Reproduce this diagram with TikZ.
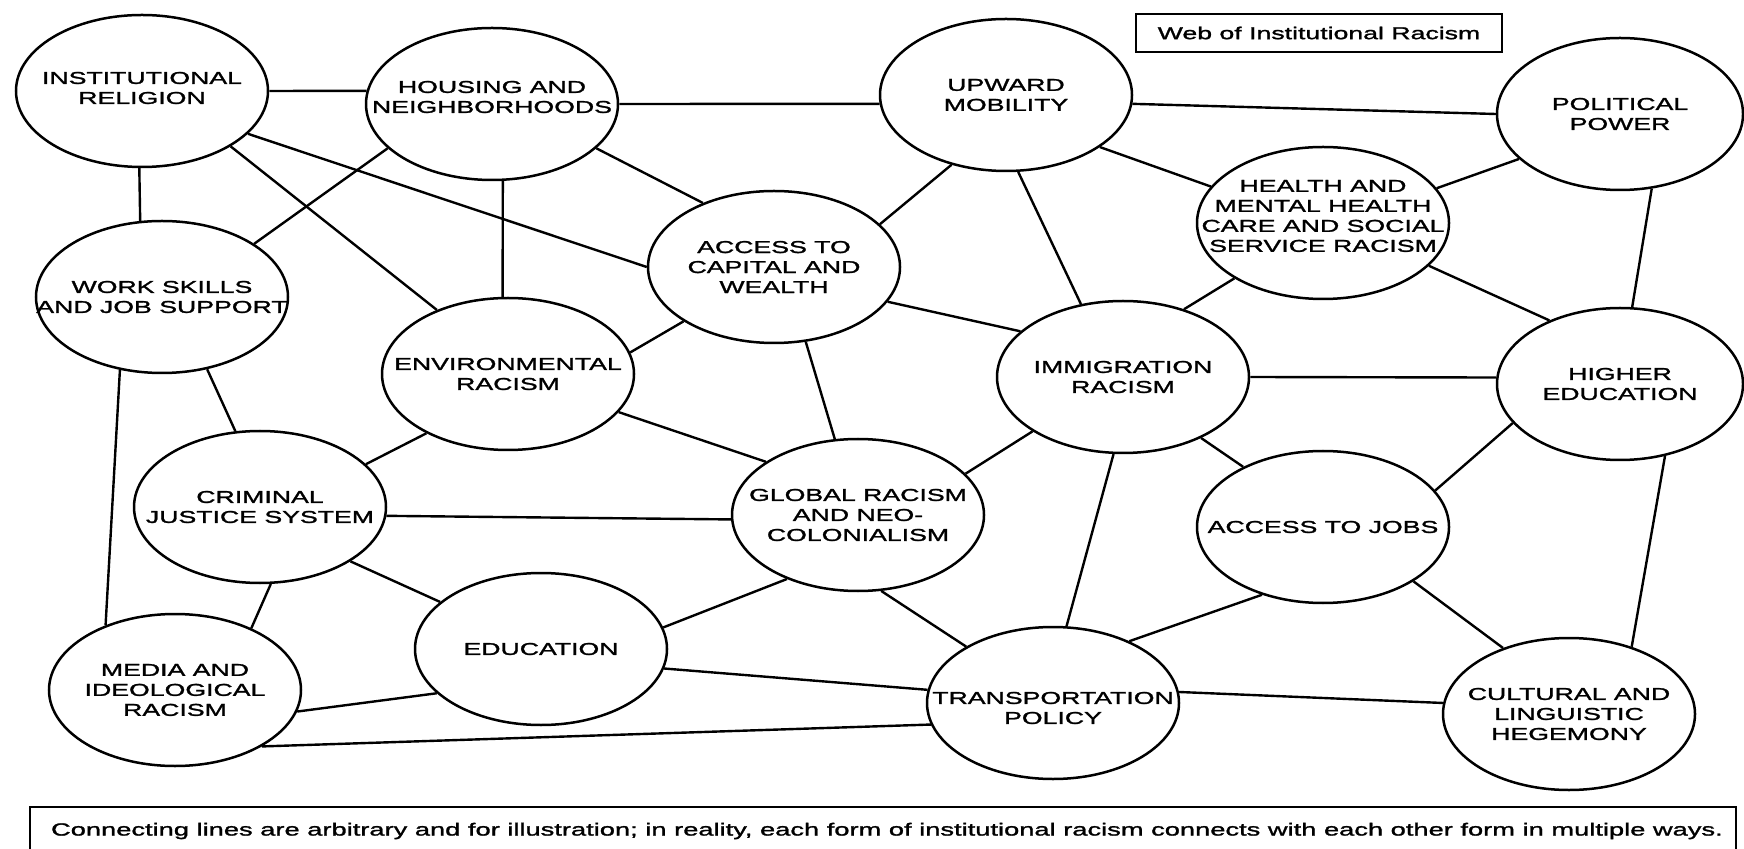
\documentclass[tikz,border=0pt]{standalone}
\usepackage{fontspec}
\setmainfont[FakeStretch=1.55,FakeBold=1.5]{Liberation Sans}
\usetikzlibrary{shapes.geometric}
\begin{document}
\begin{tikzpicture}[x=0.5pt,y=-0.5pt,
  blob/.style={draw, ellipse, line width=1.25pt, minimum width=126pt, minimum height=76pt, inner sep=0pt},
  narrowblob/.style={blob, minimum width=123pt},
  lbl/.style={align=center, inner sep=0pt, font=\fontsize{8.6}{10}\selectfont},
  link/.style={line width=1.2pt},
  framebox/.style={draw, line width=1.2pt, inner sep=0pt, font=\fontsize{8.6}{10}\selectfont}]
\fill[white] (0,0) rectangle (1744,849);
\useasboundingbox (0,0) rectangle (1744,849);

% circles
\node[blob, label={[lbl,yshift=1.5pt]center:{INSTITUTIONAL\\RELIGION}}] (inst) at (142,91) {};
\node[blob, label={[lbl,yshift=3.5pt]center:{HOUSING AND\\NEIGHBORHOODS}}] (hous) at (492,104) {};
\node[blob, label={[lbl]center:{UPWARD\\MOBILITY}}] (upw) at (1006,95) {};
\node[narrowblob, label={[lbl]center:{POLITICAL\\POWER}}] (pol) at (1620,114) {};
\node[blob, label={[lbl,yshift=3.5pt]center:{HEALTH AND\\MENTAL HEALTH\\CARE AND SOCIAL\\SERVICE RACISM}}] (hlth) at (1323,223) {};
\node[blob, label={[lbl]center:{ACCESS TO\\CAPITAL AND\\WEALTH}}] (cap) at (774,267) {};
\node[blob, label={[lbl]center:{WORK SKILLS\\AND JOB SUPPORT}}] (work) at (162,297) {};
\node[blob, label={[lbl]center:{ENVIRONMENTAL\\RACISM}}] (env) at (508,374) {};
\node[blob, label={[lbl]center:{IMMIGRATION\\RACISM}}] (imm) at (1123,377) {};
\node[narrowblob, label={[lbl]center:{HIGHER\\EDUCATION}}] (high) at (1620,384) {};
\node[blob, label={[lbl]center:{CRIMINAL\\JUSTICE SYSTEM}}] (crim) at (260,507) {};
\node[blob, label={[lbl]center:{GLOBAL RACISM\\AND NEO-\\COLONIALISM}}] (glob) at (858,515) {};
\node[blob, label={[lbl]center:{ACCESS TO JOBS}}] (jobs) at (1323,527) {};
\node[blob, label={[lbl]center:{EDUCATION}}] (edu) at (541,649) {};
\node[blob, label={[lbl]center:{MEDIA AND\\IDEOLOGICAL\\RACISM}}] (med) at (175,690) {};
\node[blob, label={[lbl,yshift=-2.5pt]center:{TRANSPORTATION\\POLICY}}] (trans) at (1053,703) {};
\node[blob, label={[lbl]center:{CULTURAL AND\\LINGUISTIC\\HEGEMONY}}] (cult) at (1569,714) {};

% boxes
\node[framebox, minimum width=183pt, minimum height=19pt] (title) at (1319,33) {Web of Institutional Racism};
\node[framebox, minimum width=853pt, minimum height=24pt, font=\fontsize{8.8}{10}\selectfont] (note) at (883,831) {\hspace{4pt}Connecting lines are arbitrary and for illustration; in reality, each form of institutional racism connects with each other form in multiple ways.};

% connectors
\draw[link] (inst.0) -- (hous.174);
\draw[link] (inst.268) -- (work.106);
\draw[link] (inst.-32) -- (env.138);
\draw[link] (inst.-22) -- (cap.180);
\draw[link] (hous.203) -- (work.30);
\draw[link] (hous.-82) -- (env.94);
\draw[link] (work.240) -- (med.137);
\draw[link] (work.-58) -- (crim.108);
\draw[link] (hous.0) -- (upw.184);
\draw[link] (hous.-23) -- (cap.138);
\draw[link] (upw.232) -- (cap.22);
\draw[link] (upw.-81) -- (imm.120);
\draw[link] (upw.-29) -- (hlth.162);
\draw[link] (upw.-4) -- (pol.180);
\draw[link] (cap.-17) -- (imm.156);
\draw[link] (cap.211) -- (env.10);
\draw[link] (cap.-67) -- (glob.107);
\draw[link] (env.-19) -- (glob.150);
\draw[link] (hlth.17) -- (pol.204);
\draw[link] (pol.-67) -- (high.81);
\draw[link] (hlth.-22) -- (high.138);
\draw[link] (hlth.212) -- (imm.48);
\draw[link] (imm.0) -- (high.177);
\draw[link] (crim.22) -- (env.216);
\draw[link] (crim.-4) -- (glob.182);
\draw[link] (crim.-31) -- (edu.155);
\draw[link] (crim.-82) -- (med.39);
\draw[link] (med.-10) -- (edu.203);
\draw[link] (med.-33) -- (trans.190);
\draw[link] (edu.10) -- (glob.222);
\draw[link] (edu.-9) -- (trans.174);
\draw[link] (glob.-73) -- (trans.147);
\draw[link] (glob.21) -- (imm.211);
\draw[link] (imm.263) -- (trans.80);
\draw[link] (trans.39) -- (jobs.228);
\draw[link] (trans.5) -- (cult.175);
\draw[link] (imm.-38) -- (jobs.143);
\draw[link] (jobs.18) -- (high.200);
\draw[link] (jobs.-31) -- (cult.135);
\draw[link] (high.-58) -- (cult.47);
\end{tikzpicture}
\end{document}
